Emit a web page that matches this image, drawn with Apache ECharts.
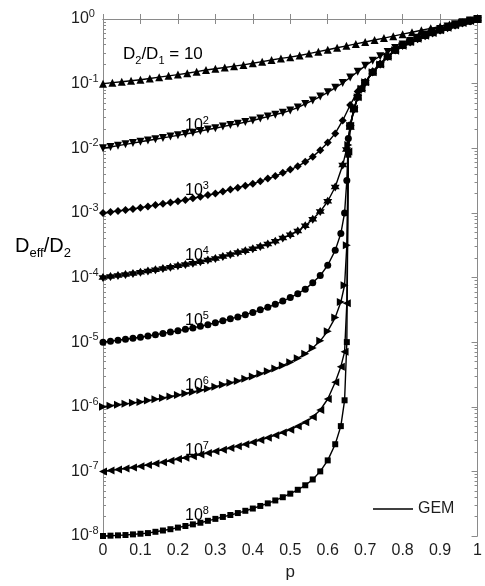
<!DOCTYPE html>
<html><head><meta charset="utf-8">
<script src="https://cdn.jsdelivr.net/npm/echarts@6/dist/echarts.min.js"></script>
<style>html,body{margin:0;padding:0;background:#fff}#c{width:485px;height:586px}</style>
</head><body><div id="c"></div>
<script>
// p values (volume fraction) at which curves were read
const P_K1 = [0,0.025,0.05,0.075,0.1,0.125,0.15,0.175,0.2,0.225,0.25,0.275,0.3,0.325,0.35,0.375,0.4,0.425,0.45,0.475,0.5,0.525,0.55,0.575,0.6,0.625,0.65,0.675,0.7,0.725,0.75,0.775,0.8,0.825,0.85,0.875,0.9,0.925,0.95,0.975,1];
const P_A = [0,0.02,0.04,0.06,0.08,0.1,0.12,0.14,0.16,0.18,0.2,0.22,0.24,0.26,0.28,0.3,0.32,0.34,0.36,0.38,0.4,0.42,0.44,0.46,0.48,0.5,0.52,0.54,0.56,0.58,0.6,0.62,0.64,0.66,0.68,0.7,0.72,0.74,0.76,0.78,0.8,0.82,0.84,0.86,0.88,0.9,0.92,0.94,0.96,0.98,1];
const P_K4 = [0,0.02,0.04,0.06,0.08,0.1,0.12,0.14,0.16,0.18,0.2,0.22,0.24,0.26,0.28,0.3,0.32,0.34,0.36,0.38,0.4,0.42,0.44,0.46,0.48,0.5,0.52,0.54,0.56,0.58,0.6,0.62,0.64,0.65,0.66,0.67,0.68,0.69,0.7,0.72,0.74,0.76,0.78,0.8,0.82,0.84,0.86,0.88,0.9,0.92,0.94,0.96,0.98,1];
const P_STEEP = [0,0.02,0.04,0.06,0.08,0.1,0.12,0.14,0.16,0.18,0.2,0.22,0.24,0.26,0.28,0.3,0.32,0.34,0.36,0.38,0.4,0.42,0.44,0.46,0.48,0.5,0.52,0.54,0.56,0.58,0.6,0.62,0.635,0.645,0.651,0.655,0.66,0.67,0.68,0.69,0.7,0.72,0.74,0.76,0.78,0.8,0.82,0.84,0.86,0.88,0.9,0.92,0.94,0.96,0.98,1];

// log10(D_eff/D2), one array per contrast D2/D1
const LOG_K1 = [-1.00,-0.985,-0.97,-0.955,-0.94,-0.92,-0.90,-0.88,-0.86,-0.84,-0.815,-0.79,-0.77,-0.75,-0.73,-0.71,-0.685,-0.66,-0.635,-0.61,-0.59,-0.565,-0.535,-0.505,-0.475,-0.445,-0.415,-0.385,-0.355,-0.325,-0.295,-0.265,-0.235,-0.205,-0.175,-0.145,-0.115,-0.085,-0.055,-0.028,0];
const LOG_K2 = [-2.00,-1.98,-1.96,-1.94,-1.92,-1.90,-1.88,-1.86,-1.84,-1.82,-1.80,-1.78,-1.76,-1.735,-1.71,-1.69,-1.665,-1.64,-1.62,-1.595,-1.57,-1.54,-1.51,-1.48,-1.45,-1.415,-1.37,-1.315,-1.26,-1.20,-1.135,-1.065,-0.99,-0.905,-0.815,-0.725,-0.645,-0.575,-0.51,-0.45,-0.395,-0.34,-0.29,-0.24,-0.195,-0.155,-0.115,-0.08,-0.05,-0.022,0];
const LOG_K3 = [-3.00,-2.985,-2.97,-2.955,-2.94,-2.92,-2.90,-2.88,-2.86,-2.84,-2.82,-2.80,-2.775,-2.75,-2.725,-2.70,-2.67,-2.64,-2.61,-2.58,-2.55,-2.51,-2.47,-2.43,-2.38,-2.33,-2.28,-2.21,-2.13,-2.03,-1.91,-1.77,-1.57,-1.33,-1.12,-0.98,-0.81,-0.69,-0.575,-0.48,-0.405,-0.35,-0.30,-0.255,-0.21,-0.17,-0.13,-0.09,-0.058,-0.028,0];
const LOG_K4 = [-4.00,-3.985,-3.97,-3.955,-3.94,-3.92,-3.90,-3.88,-3.86,-3.84,-3.82,-3.80,-3.78,-3.755,-3.73,-3.705,-3.675,-3.645,-3.615,-3.585,-3.555,-3.52,-3.48,-3.44,-3.39,-3.34,-3.28,-3.20,-3.10,-2.98,-2.82,-2.60,-2.26,-2.02,-1.68,-1.40,-1.21,-1.08,-0.98,-0.82,-0.70,-0.58,-0.48,-0.41,-0.355,-0.305,-0.26,-0.215,-0.175,-0.135,-0.095,-0.06,-0.03,0];
const LOG_K5 = [-5.00,-4.985,-4.97,-4.955,-4.94,-4.925,-4.905,-4.885,-4.865,-4.845,-4.825,-4.80,-4.78,-4.755,-4.73,-4.70,-4.67,-4.64,-4.61,-4.575,-4.54,-4.50,-4.46,-4.415,-4.365,-4.31,-4.25,-4.18,-4.08,-3.97,-3.81,-3.58,-3.32,-3.00,-2.5,-1.85,-1.64,-1.39,-1.21,-1.08,-0.98,-0.825,-0.70,-0.585,-0.485,-0.41,-0.355,-0.305,-0.26,-0.215,-0.175,-0.135,-0.095,-0.06,-0.03,0];
const LOG_K6 = [-6.00,-5.985,-5.97,-5.955,-5.94,-5.925,-5.905,-5.885,-5.865,-5.84,-5.82,-5.795,-5.77,-5.745,-5.72,-5.69,-5.66,-5.63,-5.60,-5.565,-5.53,-5.49,-5.45,-5.41,-5.36,-5.31,-5.25,-5.18,-5.09,-4.98,-4.83,-4.62,-4.38,-4.12,-3.5,-1.95,-1.65,-1.39,-1.21,-1.08,-0.98,-0.825,-0.705,-0.585,-0.485,-0.415,-0.355,-0.305,-0.26,-0.215,-0.175,-0.135,-0.095,-0.06,-0.03,0];
const LOG_K7 = [-7.00,-6.985,-6.97,-6.955,-6.94,-6.92,-6.90,-6.88,-6.86,-6.835,-6.81,-6.79,-6.765,-6.74,-6.715,-6.69,-6.665,-6.64,-6.61,-6.58,-6.55,-6.515,-6.48,-6.44,-6.40,-6.355,-6.30,-6.24,-6.16,-6.05,-5.88,-5.62,-5.38,-5.15,-4.4,-2.05,-1.65,-1.39,-1.21,-1.08,-0.98,-0.825,-0.705,-0.585,-0.49,-0.415,-0.355,-0.305,-0.26,-0.215,-0.175,-0.135,-0.095,-0.06,-0.03,0];
const LOG_K8 = [-8.00,-7.995,-7.99,-7.985,-7.975,-7.965,-7.955,-7.935,-7.915,-7.895,-7.87,-7.845,-7.82,-7.795,-7.765,-7.735,-7.705,-7.675,-7.645,-7.61,-7.575,-7.535,-7.495,-7.45,-7.40,-7.345,-7.285,-7.215,-7.125,-7.00,-6.83,-6.58,-6.30,-5.90,-5.0,-2.1,-1.66,-1.40,-1.21,-1.08,-0.98,-0.83,-0.705,-0.59,-0.49,-0.415,-0.36,-0.31,-0.26,-0.215,-0.175,-0.135,-0.095,-0.06,-0.03,0];

const X_TICKS = [0,0.1,0.2,0.3,0.4,0.5,0.6,0.7,0.8,0.9,1];
const Y_DECADES = [-8,-7,-6,-5,-4,-3,-2,-1,0];
const CONTRAST_EXPONENTS = [2,3,4,5,6,7,8];

const FONT = '"Liberation Sans", Arial, Helvetica, sans-serif';
const TXT = '#1e1e1e';
const AX = '#8a8a8a';
const STAR = 'path://M0,-10 L2.9,-5 L8.7,-5 L5.8,0 L8.7,5 L2.9,5 L0,10 L-2.9,5 L-8.7,5 L-5.8,0 L-8.7,-5 L-2.9,-5 Z';

const curves = [
  {p: P_K1, y: LOG_K1, symbol: 'triangle', rot: 0, size: 8},
  {p: P_A, y: LOG_K2, symbol: 'triangle', rot: 180, size: 8},
  {p: P_A, y: LOG_K3, symbol: 'diamond', rot: 0, size: 8},
  {p: P_K4, y: LOG_K4, symbol: STAR, rot: 0, size: 9},
  {p: P_STEEP, y: LOG_K5, symbol: 'circle', rot: 0, size: 7},
  {p: P_STEEP, y: LOG_K6, symbol: 'triangle', rot: -90, size: 8},
  {p: P_STEEP, y: LOG_K7, symbol: 'triangle', rot: 90, size: 8},
  {p: P_STEEP, y: LOG_K8, symbol: 'rect', rot: 0, size: 6}
];

const series = curves.map(c => ({
  type: 'line', name: 'GEM', xAxisIndex: 0, yAxisIndex: 0,
  data: c.p.map((p, i) => [p, c.y[i]]),
  symbol: c.symbol, symbolRotate: c.rot, symbolSize: c.size, showSymbol: true,
  lineStyle: {color: '#000', width: 1.4}, itemStyle: {color: '#000'},
  clip: false, silent: true, animation: false
}));

const minorTicks = [];
Y_DECADES.slice(0, -1).forEach(n => { for (let m = 2; m <= 9; m++) minorTicks.push(n + Math.log10(m)); });

const supRich = {
  b: {fontSize: 16, lineHeight: 16, fontFamily: FONT, color: TXT},
  s: {fontSize: 11, lineHeight: 11, fontFamily: FONT, color: TXT, padding: [0, 0, 10, 0]}
};

const axLine = {show: true, lineStyle: {color: AX, width: 1}};
const yBase = {type: 'value', min: -8, max: 0, splitLine: {show: false}};

const graphics = [];
// y-axis title
graphics.push({type: 'text', x: 15, y: 236, silent: true, style: {
  text: '{D|D}{sub|eff}{D|/D}{sub|2}', verticalAlign: 'top', align: 'left',
  rich: {D: {fontSize: 20, lineHeight: 20, verticalAlign: 'top', fontFamily: FONT, color: TXT},
         sub: {fontSize: 13, lineHeight: 13, padding: [15, 0, 0, 0], fontFamily: FONT, color: TXT}}
}});
// D2/D1 = 10 label
graphics.push({type: 'text', x: 123, y: 46.5, silent: true, style: {
  text: '{D|D}{sub|2}{D|/D}{sub|1}{D| = 10}', verticalAlign: 'top', align: 'left',
  rich: {D: {fontSize: 17, lineHeight: 16, fontFamily: FONT, color: TXT},
         sub: {fontSize: 11, lineHeight: 11, padding: [13, 0, 0, 0], fontFamily: FONT, color: TXT}}
}});
CONTRAST_EXPONENTS.forEach((k, i) => {
  graphics.push({type: 'text', x: 185, y: 126 + 65 * i, silent: true, style: {
    text: '{b|10}{s|' + k + '}', verticalAlign: 'middle', align: 'left', rich: supRich
  }});
});

const chart = echarts.init(document.getElementById('c'), null, {renderer: 'canvas'});
chart.setOption({
  animation: false,
  backgroundColor: '#fff',
  grid: {left: 103, right: 2, top: 19, bottom: 47, containLabel: false},
  legend: {data: [{name: 'GEM'}], left: 373, top: 501, icon: 'rect', itemWidth: 40, itemHeight: 1.5,
    padding: 0, selectedMode: false, textStyle: {fontSize: 16, color: TXT, fontFamily: FONT}},
  xAxis: [
    {type: 'value', min: 0, max: 1, interval: 0.1, position: 'bottom', axisLine: axLine,
      axisTick: {inside: true, length: 5, lineStyle: {color: AX}}, splitLine: {show: false},
      axisLabel: {color: TXT, fontSize: 16, fontFamily: FONT, margin: 7,
        formatter: v => String(Math.round(v * 10) / 10)},
      name: 'p', nameLocation: 'middle', nameGap: 28,
      nameTextStyle: {fontSize: 17, color: TXT, fontFamily: FONT}},
    {type: 'value', min: 0, max: 1, interval: 0.1, position: 'top', axisLine: axLine,
      axisTick: {inside: true, length: 5, lineStyle: {color: AX}}, axisLabel: {show: false}, splitLine: {show: false}}
  ],
  yAxis: [
    Object.assign({}, yBase, {interval: 1, position: 'left', axisLine: axLine,
      axisTick: {inside: true, length: 6, lineStyle: {color: AX}},
      axisLabel: {align: 'left', margin: 32, formatter: v => '{b|10}{s|' + v + '}', rich: supRich}}),
    Object.assign({}, yBase, {position: 'left', axisLine: {show: false},
      axisTick: {inside: true, length: 3, customValues: minorTicks, lineStyle: {color: AX}},
      axisLabel: {show: false}}),
    Object.assign({}, yBase, {interval: 1, position: 'right', axisLine: axLine,
      axisTick: {inside: true, length: 6, lineStyle: {color: AX}}, axisLabel: {show: false}}),
    Object.assign({}, yBase, {position: 'right', axisLine: {show: false},
      axisTick: {inside: true, length: 3, customValues: minorTicks, lineStyle: {color: AX}},
      axisLabel: {show: false}})
  ],
  series: series,
  graphic: graphics
});
</script></body></html>
